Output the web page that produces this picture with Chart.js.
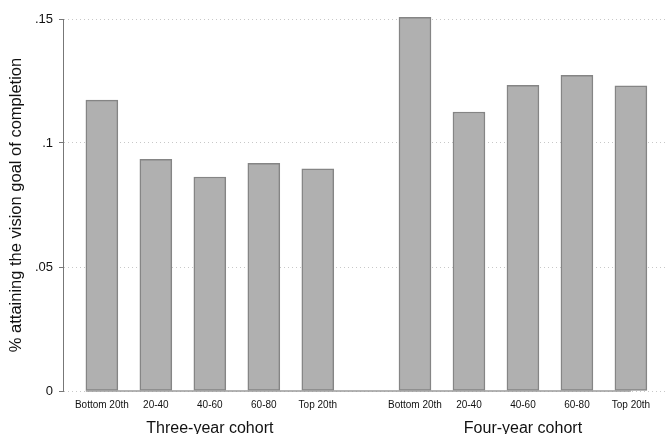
<!DOCTYPE html>
<html>
<head>
<meta charset="utf-8">
<script src="https://cdn.jsdelivr.net/npm/chart.js@4"></script>
<style>
  html, body { margin: 0; padding: 0; background: #fff; }
  #wrap { width: 669px; height: 434px; }
</style>
</head>
<body>
<div id="wrap"><canvas id="chart"></canvas></div>
<script>
const categories = ['Bottom 20th', '20-40', '40-60', '60-80', 'Top 20th'];
const groups = ['Three-year cohort', 'Four-year cohort'];
const threeYear = [0.1173, 0.0934, 0.0863, 0.0918, 0.0896];
const fourYear = [0.1507, 0.1125, 0.1233, 0.1273, 0.1231];
const yTicks = [0, 0.05, 0.1, 0.15];

// layout: bars sit on slots 0..4, the second group is pushed right by a gap
const groupGap = 1.8;
const groupStep = categories.length - 1 + groupGap;
const seriesByGroup = [threeYear, fourYear];

const points = [];
seriesByGroup.forEach((series, g) => {
  series.forEach((v, i) => points.push({ x: g * groupStep + i, y: v }));
});
const barPositions = points.map(p => p.x);
const groupCenters = groups.map((_, g) => g * groupStep + (categories.length - 1) / 2);

const textColor = '#111';
const fontFamily = '"Liberation Sans", Arial, sans-serif';

// Stata-style baseline: from the first bar's left edge to the last bar's centre
const baseline = {
  id: 'baseline',
  afterDatasetsDraw(chart) {
    const meta = chart.getDatasetMeta(0);
    const first = meta.data[0];
    const last = meta.data[meta.data.length - 1];
    const y = chart.scales.y.getPixelForValue(0);
    const ctx = chart.ctx;
    ctx.save();
    ctx.strokeStyle = '#9a9a9a';
    ctx.lineWidth = 1.5;
    ctx.beginPath();
    ctx.moveTo(first.x - first.width / 2, y);
    ctx.lineTo(last.x, y);
    ctx.stroke();
    ctx.restore();
  }
};

new Chart(document.getElementById('chart'), {
  type: 'bar',
  data: {
    datasets: [{
      data: points,
      backgroundColor: '#b0b0b0',
      borderColor: '#858585',
      borderWidth: 1.5,
      borderSkipped: false,
      barThickness: 32,
      clip: false
    }]
  },
  options: {
    responsive: true,
    maintainAspectRatio: false,
    animation: false,
    layout: { padding: { top: 19, right: 3, left: 0, bottom: 0 } },
    plugins: {
      legend: { display: false },
      tooltip: { enabled: false }
    },
    scales: {
      x: {
        type: 'linear',
        min: -0.72,
        max: 10.45,
        offset: false,
        grid: { display: false, drawTicks: false },
        border: { display: false },
        afterBuildTicks: s => { s.ticks = barPositions.map(v => ({ value: v })); },
        afterFit: s => { s.height = 22; },
        ticks: {
          autoSkip: false,
          maxRotation: 0,
          minRotation: 0,
          padding: 8,
          color: textColor,
          font: { family: fontFamily, size: 10 },
          callback: (v, i) => categories[i % categories.length]
        }
      },
      x2: {
        type: 'linear',
        position: 'bottom',
        min: -0.72,
        max: 10.45,
        offset: false,
        grid: { display: false, drawTicks: false },
        border: { display: false },
        afterBuildTicks: s => { s.ticks = groupCenters.map(v => ({ value: v })); },
        afterFit: s => { s.height = 21; },
        ticks: {
          autoSkip: false,
          maxRotation: 0,
          minRotation: 0,
          padding: 6,
          color: textColor,
          font: { family: fontFamily, size: 16 },
          callback: (v, i) => groups[i]
        }
      },
      y: {
        min: 0,
        max: 0.15,
        afterBuildTicks: s => { s.ticks = yTicks.map(v => ({ value: v })); },
        afterFit: s => { s.width = 63; },
        grid: {
          color: '#c8c8c8',
          lineWidth: 1,
          tickLength: 4,
          tickColor: '#777',
          tickBorderDash: []
        },
        border: { display: true, color: '#777', width: 1, dash: [1, 3] },
        title: {
          display: true,
          text: '% attaining the vision goal of completion',
          color: textColor,
          font: { family: fontFamily, size: 16.5 },
          padding: { top: 7, bottom: 0 }
        },
        ticks: {
          padding: 6,
          color: textColor,
          font: { family: fontFamily, size: 13 },
          callback: v => v === 0 ? '0' : String(v).replace(/^0/, '')
        }
      }
    }
  },
  plugins: [baseline]
});
</script>
</body>
</html>
